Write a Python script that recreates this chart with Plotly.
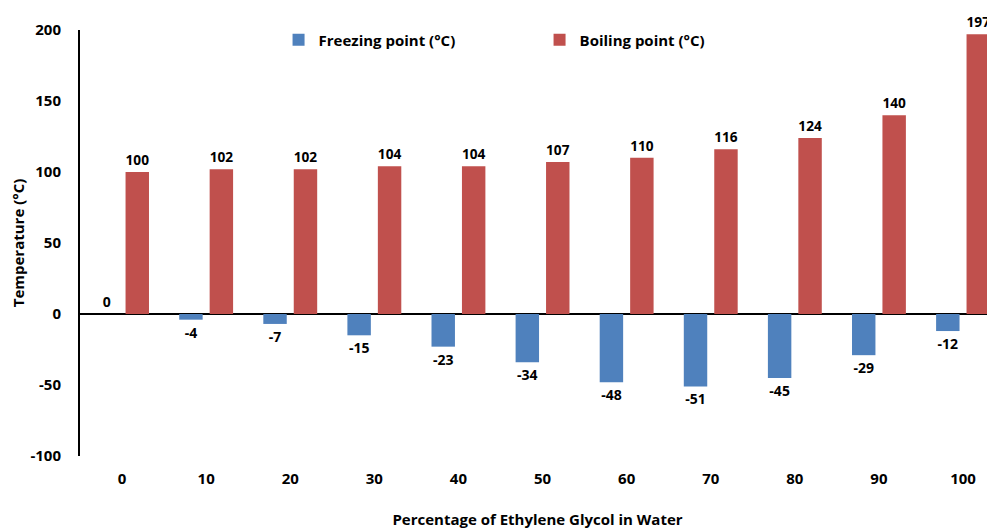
import plotly.graph_objects as go

categories = ["0", "10", "20", "30", "40", "50", "60", "70", "80", "90", "100"]
freezing = [0, -4, -7, -15, -23, -34, -48, -51, -45, -29, -12]
boiling = [100, 102, 102, 104, 104, 107, 110, 116, 124, 140, 197]
y_ticks = [-100, -50, 0, 50, 100, 150, 200]

FONT = "Open Sans"
f = dict(family=FONT, size=15, color="black", weight="bold")
fl = dict(family=FONT, size=14, color="black", weight="bold")

fig = go.Figure()
fig.add_trace(go.Bar(
    x=categories, y=freezing, name="Freezing point (°C)",
    marker=dict(color="#4F81BD", line=dict(width=0)),
    text=[str(v) for v in freezing], textposition="outside",
    textfont=fl, cliponaxis=False,
))
fig.add_trace(go.Bar(
    x=categories, y=boiling, name="Boiling point (°C)",
    marker=dict(color="#C0504D", line=dict(width=0)),
    text=[str(v) for v in boiling], textposition="outside",
    textfont=fl, cliponaxis=False,
))

# the page body adds an 8px margin, so the figure is sized/offset to compensate
fig.update_layout(
    width=987, height=521,
    margin=dict(l=72, r=0, t=22, b=73, autoexpand=False),
    paper_bgcolor="white", plot_bgcolor="white",
    barmode="group", bargap=0.276, bargroupgap=0.23,
    font=f,
    showlegend=True,
    legend=dict(orientation="h", x=0.217, xanchor="left", y=0.9765, yanchor="middle",
                font=f, itemwidth=30, bgcolor="rgba(0,0,0,0)",
                entrywidth=216, entrywidthmode="pixels"),
    xaxis=dict(
        type="category", range=[-0.5, 10.38], automargin=False,
        showline=False, showgrid=False, zeroline=False,
        ticks="", ticklabelstandoff=12, tickfont=f,
        title=dict(text="Percentage of Ethylene Glycol in Water", standoff=29, font=f),
    ),
    yaxis=dict(
        range=[-100, 200], tickvals=y_ticks, ticktext=[str(v) for v in y_ticks],
        automargin=False,
        showline=True, linecolor="black", linewidth=2,
        showgrid=False, zeroline=True, zerolinecolor="black", zerolinewidth=2,
        ticks="", ticklabelstandoff=14, tickfont=f,
        title=dict(text="Temperature (°C)", standoff=10, font=f),
    ),
    hovermode=False,
)

fig.write_html("out.html")
